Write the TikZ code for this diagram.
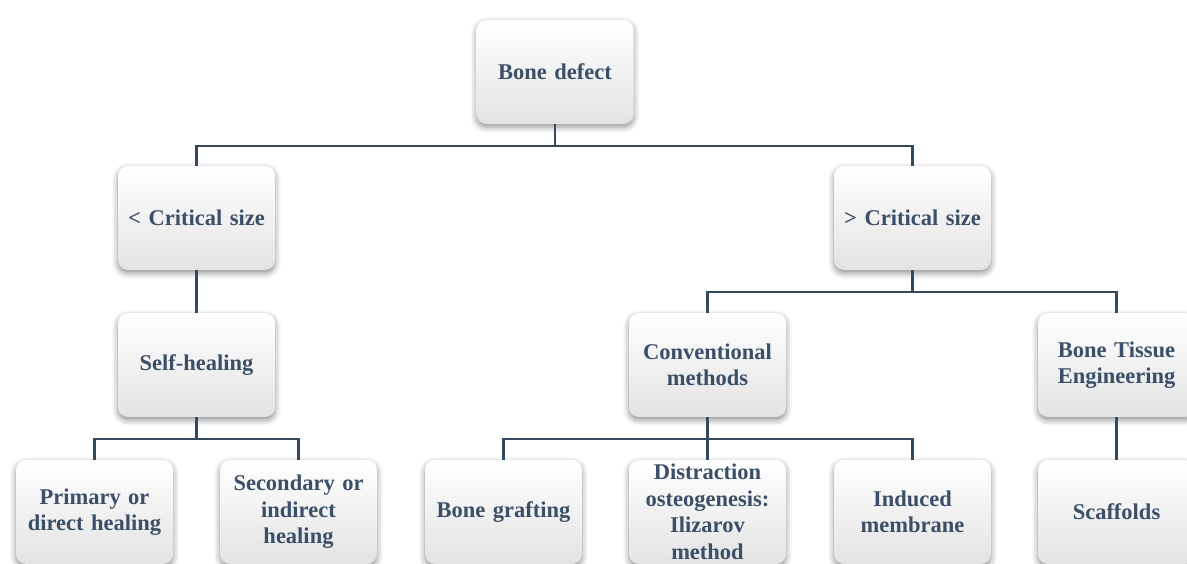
\documentclass[tikz,border=0pt]{standalone}
\usepackage{fontspec}
\setmainfont{Liberation Serif}
\usetikzlibrary{shadows.blur}
\definecolor{txt}{HTML}{3B4F68}
\definecolor{ln}{HTML}{34495E}
\tikzset{
  box/.style={rectangle, rounded corners=10pt, minimum width=157pt, minimum height=104pt,
    text width=152pt, align=center, inner sep=0pt,
    top color=white, middle color=white, bottom color=black!11,
    blur shadow={shadow xshift=0pt, shadow yshift=-3pt, shadow blur radius=6pt, shadow opacity=45},
    font=\fontsize{22.5}{26.5}\selectfont\bfseries, text=txt},
  conn/.style={draw=ln, line width=2.9pt}
}
\begin{document}
\begin{tikzpicture}[x=1pt,y=-1pt]
\useasboundingbox (0,0) rectangle (1187,563);
\clip (0,0) rectangle (1187,563);
\node[box] (bd) at (555,72) {Bone defect};
\node[box] (lt) at (196.5,218) {< Critical size};
\node[box] (gt) at (912.5,218) {> Critical size};
\node[box] (sh) at (196.5,365) {Self-healing};
\node[box] (cm) at (707.5,365) {Conventional\\methods};
\node[box] (bte) at (1116.5,365) {Bone Tissue\\Engineering};
\node[box] (pr) at (94.5,512) {Primary or\\direct healing};
\node[box] (se) at (298.5,512) {Secondary or\\indirect\\healing};
\node[box] (bg) at (503.5,512) {Bone grafting};
\node[box] (di) at (707.5,512) {Distraction\\osteogenesis:\\Ilizarov\\method};
\node[box] (im) at (912.5,512) {Induced\\membrane};
\node[box] (sc) at (1116.5,512) {Scaffolds};
\begin{scope}[conn]
\draw (bd.south) -- (bd.south |- 0,146) -| (lt.north);
\draw (bd.south |- 0,146) -| (gt.north);
\draw (lt.south) -- (sh.north);
\draw (gt.south) -- (gt.south |- 0,292) -| (cm.north);
\draw (gt.south |- 0,292) -| (bte.north);
\draw (sh.south) -- (sh.south |- 0,439) -| (pr.north);
\draw (sh.south |- 0,439) -| (se.north);
\draw (cm.south) -- (cm.south |- 0,439) -| (bg.north);
\draw (cm.south |- 0,439) -| (im.north);
\draw (cm.south |- 0,439) -- (di.north);
\draw (bte.south) -- (sc.north);
\end{scope}
\end{tikzpicture}
\end{document}
